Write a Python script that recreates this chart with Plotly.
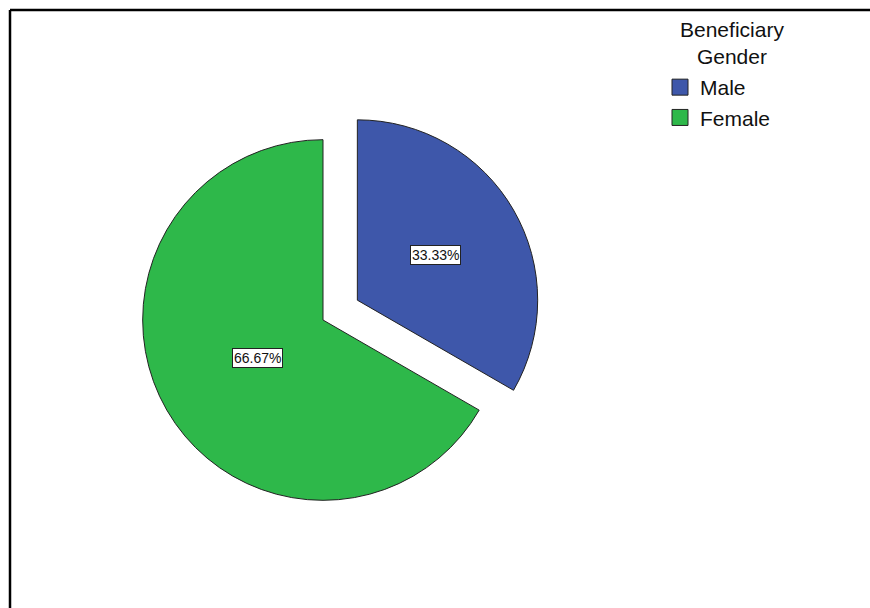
import math
import plotly.graph_objects as go

# ---- data ----
categories = ["Male", "Female"]
percentages = [33.33, 66.67]
label_texts = ["33.33%", "66.67%"]
colors = ["#3E57AA", "#2EB84A"]
pulls = [0.22, 0.0]
legend_title = "Beneficiary<br>Gender"

W, H = 870, 608
FONT = "Liberation Sans, Arial, sans-serif"
# pie placement (pixels): centre and domain box
cx_px, cy_px, box_px = 323, 320, 440
max_pull = max(pulls)
r_px = box_px / (2 + 2 * max_pull)

fig = go.Figure()
fig.add_trace(go.Pie(
    labels=categories,
    values=percentages,
    marker=dict(colors=colors, line=dict(color="#222222", width=1)),
    pull=pulls,
    sort=False,
    direction="clockwise",
    rotation=0,
    textinfo="none",
    hoverinfo="label+percent",
    showlegend=False,
    domain=dict(x=[(cx_px - box_px / 2) / W, (cx_px + box_px / 2) / W],
                y=[1 - (cy_px + box_px / 2) / H, 1 - (cy_px - box_px / 2) / H]),
))

# legend entries (larger square swatches)
for name, col in zip(categories, colors):
    fig.add_trace(go.Scatter(
        x=[None], y=[None], mode="markers", name=name,
        marker=dict(symbol="square", size=16, color=col,
                    line=dict(color="#222222", width=1)),
        hoverinfo="skip",
    ))

# boxed percentage labels at the slice bisectors
total = sum(percentages)
start = 0.0
label_frac = [0.5, 0.42]
for val, txt, pull, lf in zip(percentages, label_texts, pulls, label_frac):
    mid = (start + val / 2) / total * 2 * math.pi
    start += val
    d = (pull + lf) * r_px
    px = cx_px + d * math.sin(mid)
    py = cy_px - d * math.cos(mid)
    fig.add_annotation(
        x=px / W, y=1 - py / H, xref="paper", yref="paper",
        xanchor="center", yanchor="middle",
        text=txt, showarrow=False,
        font=dict(family=FONT, size=14, color="#111111"),
        bgcolor="white", bordercolor="#222222", borderwidth=1, borderpad=1,
    )

# legend title (centred, two lines)
fig.add_annotation(
    x=732 / W, y=1 - 43 / H, xref="paper", yref="paper",
    xanchor="center", yanchor="middle", align="center",
    text=legend_title, showarrow=False, borderpad=0,
    font=dict(family=FONT, size=21, color="#111111"),
)

# frame lines (top and left)
fig.add_shape(type="line", xref="paper", yref="paper",
              x0=10 / W, x1=1.0, y0=1 - 10 / H, y1=1 - 10 / H,
              line=dict(color="black", width=2.5))
fig.add_shape(type="line", xref="paper", yref="paper",
              x0=10 / W, x1=10 / W, y0=0, y1=1 - 10 / H,
              line=dict(color="black", width=2.5))

fig.update_layout(
    width=W, height=H,
    margin=dict(l=0, r=0, t=0, b=0),
    paper_bgcolor="white", plot_bgcolor="white",
    xaxis=dict(visible=False), yaxis=dict(visible=False),
    font=dict(family=FONT, color="#111111"),
    legend=dict(
        x=660 / W, y=1 - 67 / H, xanchor="left", yanchor="top",
        font=dict(size=21),
        itemsizing="trace",
        tracegroupgap=0,
        bgcolor="rgba(0,0,0,0)",
    ),
)

fig.write_html("out.html")
